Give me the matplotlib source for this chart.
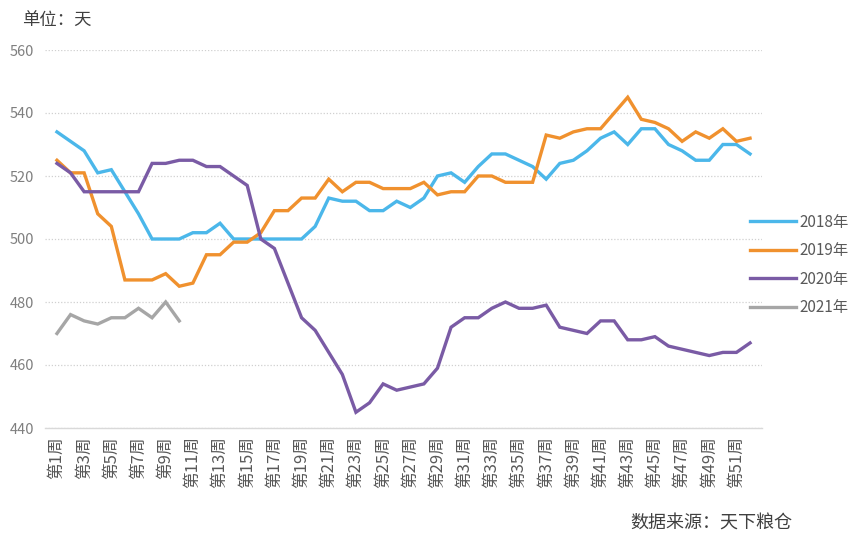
import numpy as np
import matplotlib
matplotlib.use('Agg')
import matplotlib.pyplot as plt

plt.rcParams['font.family'] = ['Noto Sans CJK SC', 'DejaVu Sans']

weeks = np.arange(1, 53)
week_labels = ['第%d周' % w for w in weeks]

y2018 = [534, 531, 528, 521, 522, 515, 508, 500, 500, 500,
         502, 502, 505, 500, 500, 500, 500, 500, 500, 504,
         513, 512, 512, 509, 509, 512, 510, 513, 520, 521,
         518, 523, 527, 527, 525, 523, 519, 524, 525, 528,
         532, 534, 530, 535, 535, 530, 528, 525, 525, 530,
         530, 527]
y2019 = [525, 521, 521, 508, 504, 487, 487, 487, 489, 485,
         486, 495, 495, 499, 499, 502, 509, 509, 513, 513,
         519, 515, 518, 518, 516, 516, 516, 518, 514, 515,
         515, 520, 520, 518, 518, 518, 533, 532, 534, 535,
         535, 540, 545, 538, 537, 535, 531, 534, 532, 535,
         531, 532]
y2020 = [524, 521, 515, 515, 515, 515, 515, 524, 524, 525,
         525, 523, 523, 520, 517, 500, 497, 486, 475, 471,
         464, 457, 445, 448, 454, 452, 453, 454, 459, 472,
         475, 475, 478, 480, 478, 478, 479, 472, 471, 470,
         474, 474, 468, 468, 469, 466, 465, 464, 463, 464,
         464, 467]
y2021 = [470, 476, 474, 473, 475, 475, 478, 475, 480, 474]

series = [
    ('2018年', y2018, '#4BB7EA'),
    ('2019年', y2019, '#F0912E'),
    ('2020年', y2020, '#7A5BA5'),
    ('2021年', y2021, '#A6A6A6'),
]

fig = plt.figure(figsize=(8.59, 5.38), dpi=100)
ax = fig.add_axes([45 / 859, 1 - 428 / 538, (762 - 45) / 859, (428 - 50) / 538])

for name, vals, col in series:
    ax.plot(weeks[:len(vals)], vals, color=col, lw=2.4, label=name,
            solid_joinstyle='miter')

ax.set_ylim(440, 560)
ax.set_yticks(np.arange(440, 561, 20))
ax.set_xlim(0.12, 52.88)
ax.set_xticks(weeks[::2])
ax.set_xticklabels(week_labels[::2], rotation=90, fontsize=12, color='#595959')
ax.tick_params(axis='both', length=0)
ax.tick_params(axis='y', labelsize=10.5, colors='#7f7f7f', pad=8)
ax.tick_params(axis='x', pad=6)

ax.grid(axis='y', color='#d0d0d0', linestyle=(0, (1, 1.5)), lw=0.9)
ax.set_axisbelow(True)
for s in ['top', 'right', 'left']:
    ax.spines[s].set_visible(False)
ax.spines['bottom'].set_color('#d9d9d9')
ax.spines['bottom'].set_linewidth(1)

ax.legend(loc='center left', bbox_to_anchor=(736 / 859, 1 - 265 / 538),
          bbox_transform=fig.transFigure, frameon=False, fontsize=11,
          handlelength=3.0, labelspacing=0.75, handletextpad=0.25,
          labelcolor='#595959')

fig.text(22 / 859, 1 - 21 / 538, '单位：天', fontsize=12.5, color='#404040', va='center')
fig.text(792 / 859, 1 - 524 / 538, '数据来源：天下粮仓', fontsize=13, color='#404040',
         va='center', ha='right')

fig.savefig('out.png', dpi=100)
